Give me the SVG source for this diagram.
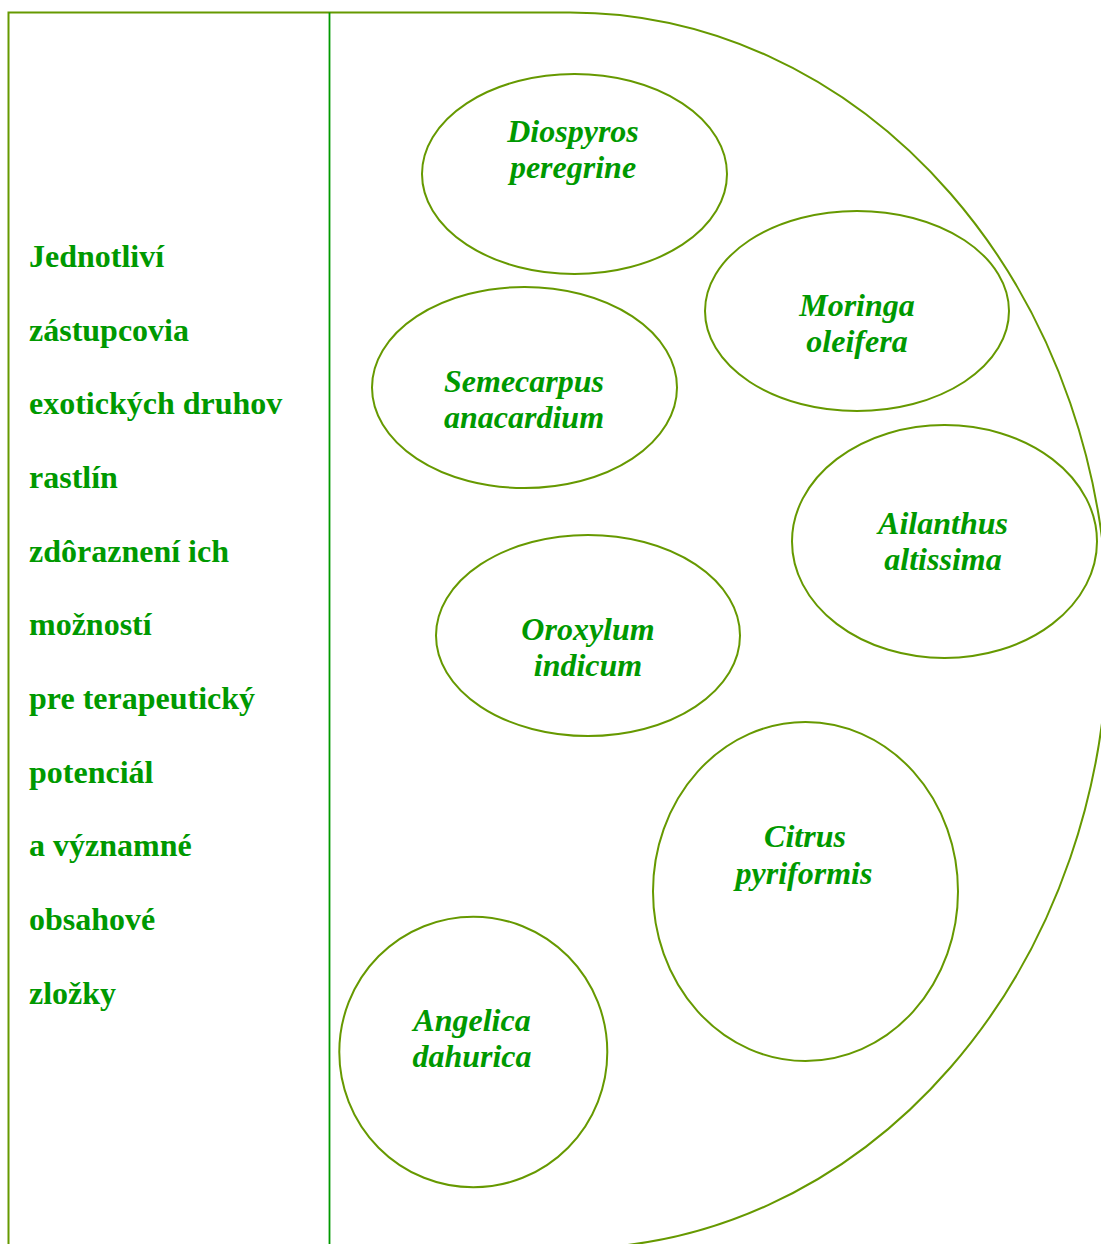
<svg xmlns="http://www.w3.org/2000/svg" width="1101" height="1244" viewBox="0 0 1101 1244">
  <style>
    .outline { fill: none; stroke: #669900; stroke-width: 2; }
    .divider { fill: none; stroke: #009900; stroke-width: 1.8; }
    .node ellipse { fill: none; stroke: #669900; stroke-width: 2; }
    .lbl { font-family: "Liberation Serif", "Times New Roman", serif; font-size: 32px; font-weight: bold; fill: #009900; }
    .species { font-style: italic; text-anchor: middle; }
  </style>
  <rect width="1101" height="1244" fill="#ffffff"/>

  <!-- frame: left panel and the rounded right panel -->
  <g id="frame">
    <path class="outline" d="M8.5,1250 V12.5 H570 A538,618 0 0 1 570,1248.5"/>
    <line class="divider" x1="329.5" y1="12.5" x2="329.5" y2="1250"/>
  </g>

  <!-- left column caption -->
  <g id="caption" class="lbl">
    <text x="29" y="267">Jednotliví</text>
    <text x="29" y="341">zástupcovia</text>
    <text x="29" y="414">exotických druhov</text>
    <text x="29" y="488">rastlín</text>
    <text x="29" y="562">zdôraznení ich</text>
    <text x="29" y="635">možností</text>
    <text x="29" y="709">pre terapeutický</text>
    <text x="29" y="783">potenciál</text>
    <text x="29" y="856">a významné</text>
    <text x="29" y="930">obsahové</text>
    <text x="29" y="1004">zložky</text>
  </g>

  <!-- species nodes -->
  <g id="diospyros" class="node">
    <ellipse cx="574.5" cy="174" rx="152.5" ry="100"/>
    <text class="lbl species" x="573" y="142">Diospyros</text>
    <text class="lbl species" x="573" y="178">peregrine</text>
  </g>
  <g id="moringa" class="node">
    <ellipse cx="857" cy="311" rx="152" ry="100"/>
    <text class="lbl species" x="857" y="316">Moringa</text>
    <text class="lbl species" x="857" y="352">oleifera</text>
  </g>
  <g id="semecarpus" class="node">
    <ellipse cx="524.5" cy="387.5" rx="152.5" ry="100.5"/>
    <text class="lbl species" x="524" y="392">Semecarpus</text>
    <text class="lbl species" x="524" y="428">anacardium</text>
  </g>
  <g id="ailanthus" class="node">
    <ellipse cx="944.5" cy="541.5" rx="152.5" ry="116.5"/>
    <text class="lbl species" x="943" y="534">Ailanthus</text>
    <text class="lbl species" x="943" y="570">altissima</text>
  </g>
  <g id="oroxylum" class="node">
    <ellipse cx="588" cy="635.5" rx="152" ry="100.5"/>
    <text class="lbl species" x="588" y="640">Oroxylum</text>
    <text class="lbl species" x="588" y="676">indicum</text>
  </g>
  <g id="citrus" class="node">
    <ellipse cx="805.5" cy="891.5" rx="152.5" ry="169.5"/>
    <text class="lbl species" x="805" y="847">Citrus</text>
    <text class="lbl species" x="804" y="884">pyriformis</text>
  </g>
  <g id="angelica" class="node">
    <ellipse cx="473.3" cy="1052" rx="134" ry="135.3"/>
    <text class="lbl species" x="472" y="1031">Angelica</text>
    <text class="lbl species" x="472" y="1067">dahurica</text>
  </g>
</svg>
